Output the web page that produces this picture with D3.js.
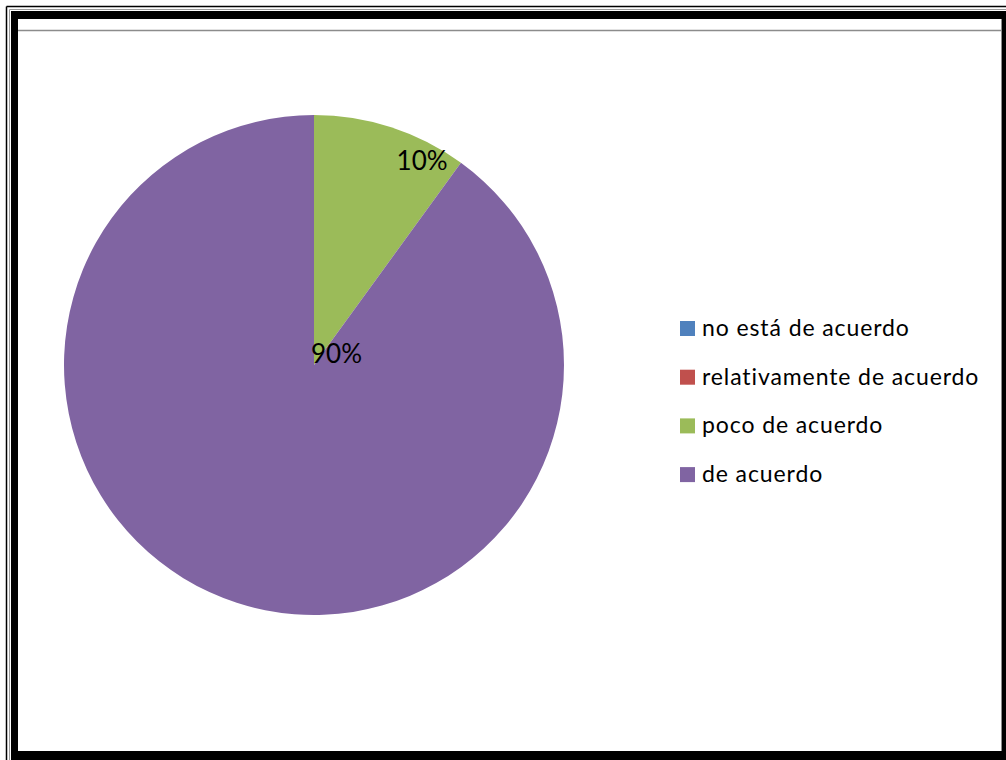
<!DOCTYPE html>
<html>
<head>
<meta charset="utf-8">
<script src="https://cdn.jsdelivr.net/npm/d3@7"></script>
<style>
  html, body { margin: 0; padding: 0; background: #fff; }
  svg { display: block; }
  text { font-family: "Lato", "Open Sans", sans-serif; fill: #000; }
</style>
</head>
<body>
<svg id="chart" width="1006" height="760"></svg>
<script>
// Survey answers and their shares (percent)
const categories = ["no está de acuerdo", "relativamente de acuerdo", "poco de acuerdo", "de acuerdo"];
const shares = [0, 0, 10, 90];
const palette = ["#4F81BD", "#C0504D", "#9BBB59", "#8064A2"];

const svg = d3.select("#chart");
const W = 1006, H = 760;

// Page frame: thin outer rule, grey rule, thick black box
svg.append("line").attr("x1", 6.5).attr("y1", 6.5).attr("x2", W).attr("y2", 6.5)
  .attr("stroke", "#000").attr("stroke-width", 1.5);
svg.append("line").attr("x1", 6.5).attr("y1", 6.5).attr("x2", 6.5).attr("y2", H)
  .attr("stroke", "#000").attr("stroke-width", 1.5);
svg.append("line").attr("x1", 9.5).attr("y1", 9.5).attr("x2", W).attr("y2", 9.5)
  .attr("stroke", "#999").attr("stroke-width", 1);
svg.append("line").attr("x1", 9.5).attr("y1", 9.5).attr("x2", 9.5).attr("y2", H)
  .attr("stroke", "#999").attr("stroke-width", 1);
svg.append("rect").attr("x", 11).attr("y", 11).attr("width", W - 11 + 10).attr("height", H - 11)
  .attr("fill", "#000");
svg.append("rect").attr("x", 18).attr("y", 19).attr("width", 984).attr("height", 732)
  .attr("fill", "#fff");
svg.append("line").attr("x1", 18).attr("y1", 30.5).attr("x2", 1002).attr("y2", 30.5)
  .attr("stroke", "#8c8c8c").attr("stroke-width", 1.5);
svg.append("line").attr("x1", 1001.5).attr("y1", 19).attr("x2", 1001.5).attr("y2", 751)
  .attr("stroke", "#8c8c8c").attr("stroke-width", 1);

// Pie
const cx = 314, cy = 365, R = 250;
const data = categories.map((c, i) => ({ name: c, value: shares[i], color: palette[i] }));
const pie = d3.pie().value(d => d.value).sort(null);
const arcs = pie(data);
const arc = d3.arc().innerRadius(0).outerRadius(R);

const g = svg.append("g").attr("transform", `translate(${cx},${cy})`);
g.selectAll("path.slice")
  .data(arcs.filter(a => a.data.value > 0))
  .join("path")
  .attr("class", "slice")
  .attr("d", arc)
  .attr("fill", d => d.data.color);

// Percentage labels
const fmt = v => d3.format(".0f")(v) + "%";
arcs.filter(a => a.data.value > 0).forEach(a => {
  let x, y, anchor;
  if (a.data.value < 50) {
    // small slice: label near its outer edge, toward the trailing side
    const ang = a.startAngle + 0.775 * (a.endAngle - a.startAngle);
    const rr = 0.924 * R;
    x = Math.sin(ang) * rr;
    y = -Math.cos(ang) * rr + 9;
    anchor = "middle";
  } else {
    // large slice: label sits at the centre of the pie
    x = -3; y = -2; anchor = "start";
  }
  g.append("text")
    .attr("x", x).attr("y", y)
    .attr("text-anchor", anchor)
    .attr("font-size", 26)
    .text(fmt(a.data.value));
});

// Legend
const legend = svg.append("g").attr("transform", "translate(680,321)");
const row = legend.selectAll("g.row").data(data).join("g")
  .attr("class", "row")
  .attr("transform", (d, i) => `translate(0,${i * 48.7})`);
row.append("rect").attr("width", 15).attr("height", 15).attr("fill", d => d.color);
row.append("text").attr("x", 22).attr("y", 15)
  .attr("font-size", 23).attr("letter-spacing", 0.9)
  .text(d => d.name);
</script>
</body>
</html>
